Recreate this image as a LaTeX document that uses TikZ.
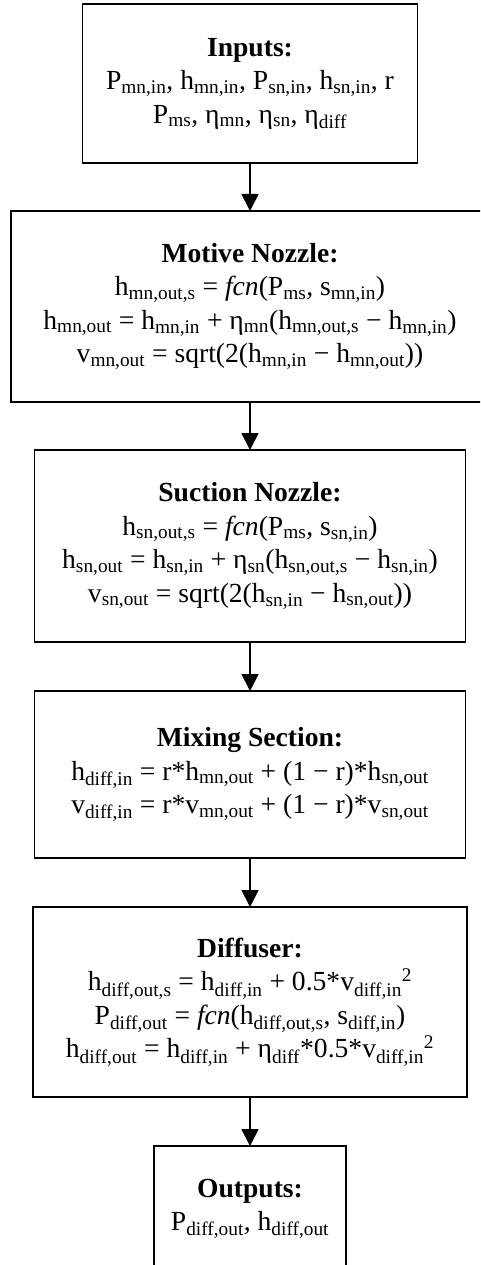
\documentclass[tikz,border=0pt]{standalone}
\usepackage{fontspec}
\setmainfont{Liberation Serif}
\usetikzlibrary{positioning, arrows.meta}

\newcommand{\subs}[1]{\textsubscript{#1}}
\newcommand{\sups}[1]{\textsuperscript{#1}}

\tikzset{
  stage/.style={draw, line width=1.8pt, align=center, inner sep=0pt, outer sep=0pt,
    font=\fontsize{27.6}{33.5}\selectfont},
  flow/.style={line width=1.8pt, -{Triangle[length=17pt, width=17pt]}}
}

\begin{document}
\begin{tikzpicture}[x=1pt, y=1pt]
    % Page frame
    \useasboundingbox (0,0) rectangle (480,-1265);
    \clip (0,0) rectangle (480,-1265);

    % Stages of the ejector model
    \node[stage, minimum width=335pt, minimum height=159pt] (inputs) at (250,-83.5)
        {\textbf{Inputs:}\\
         P\subs{mn,in}, h\subs{mn,in}, P\subs{sn,in}, h\subs{sn,in}, r\\
         P\subs{ms}, η\subs{mn}, η\subs{sn}, η\subs{diff}};
    \node[stage, minimum width=478pt, minimum height=191pt, below=48pt of inputs] (motive)
        {\textbf{Motive Nozzle:}\\
         h\subs{mn,out,s} = \textit{fcn}(P\subs{ms}, s\subs{mn,in})\\
         h\subs{mn,out} = h\subs{mn,in} + η\subs{mn}(h\subs{mn,out,s} − h\subs{mn,in})\\
         v\subs{mn,out} = sqrt(2(h\subs{mn,in} − h\subs{mn,out}))};
    \node[stage, minimum width=431pt, minimum height=192pt, below=48pt of motive] (suction)
        {\textbf{Suction Nozzle:}\\
         h\subs{sn,out,s} = \textit{fcn}(P\subs{ms}, s\subs{sn,in})\\
         h\subs{sn,out} = h\subs{sn,in} + η\subs{sn}(h\subs{sn,out,s} − h\subs{sn,in})\\
         v\subs{sn,out} = sqrt(2(h\subs{sn,in} − h\subs{sn,out}))};
    \node[stage, minimum width=431pt, minimum height=167pt, below=49pt of suction] (mixing)
        {\textbf{Mixing Section:}\\
         h\subs{diff,in} = r*h\subs{mn,out} + (1 − r)*h\subs{sn,out}\\
         v\subs{diff,in} = r*v\subs{mn,out} + (1 − r)*v\subs{sn,out}};
    \node[stage, minimum width=434pt, minimum height=190pt, below=49pt of mixing] (diffuser)
        {\textbf{Diffuser:}\\
         h\subs{diff,out,s} = h\subs{diff,in} + 0.5*v\subs{diff,in}\sups{2}\\
         P\subs{diff,out} = \textit{fcn}(h\subs{diff,out,s}, s\subs{diff,in})\\
         h\subs{diff,out} = h\subs{diff,in} + η\subs{diff}*0.5*v\subs{diff,in}\sups{2}};
    \node[stage, minimum width=192pt, minimum height=126pt, below=49pt of diffuser] (outputs)
        {\textbf{Outputs:}\\
         P\subs{diff,out}, h\subs{diff,out}};

    % Flow arrows
    \foreach \a/\b in {inputs/motive, motive/suction, suction/mixing, mixing/diffuser, diffuser/outputs}
        \draw[flow] (\a.south) -- (\b.north);
\end{tikzpicture}
\end{document}
